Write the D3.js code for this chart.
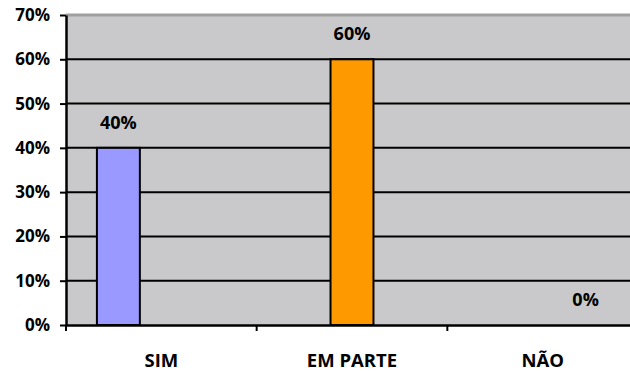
<!DOCTYPE html>
<html lang="pt">
<head>
<meta charset="utf-8">
<title></title>
<script src="https://cdn.jsdelivr.net/npm/d3@7"></script>
<style>
  body { margin: 0; background: #fff; }
  text { font-family: "Open Sans", sans-serif; font-weight: bold; fill: #000; }
</style>
</head>
<body>
<svg id="chart" width="630" height="371"></svg>
<script>
// chart data
var categories = ["SIM", "EM PARTE", "NÃO"];
var values = [0.40, 0.60, 0.00];
var barColors = ["#9999ff", "#ff9900", "#993366"];
var yTicks = [0, 0.1, 0.2, 0.3, 0.4, 0.5, 0.6, 0.7];

var W = 630, H = 371;
var m = { left: 66, right: -8, top: 15, bottom: 46 };

var svg = d3.select("#chart");

var x = d3.scaleBand()
    .domain(categories)
    .range([m.left, W - m.right]);

// each series sits in its own slot inside the category (excel clustered look)
var xs = d3.scaleBand()
    .domain(categories)
    .range([0, x.bandwidth()])
    .paddingOuter(0.72);

var y = d3.scaleLinear()
    .domain([0, 0.7])
    .range([H - m.bottom, m.top]);

// plot background
svg.append("rect")
    .attr("x", m.left)
    .attr("y", y(0.7))
    .attr("width", W - m.right - m.left)
    .attr("height", y(0) - y(0.7))
    .attr("fill", "#c9c9cb");

// gridlines
svg.selectAll("line.grid")
    .data(yTicks.filter(function (d) { return d > 0 && d < 0.7; }))
    .enter().append("line")
    .attr("class", "grid")
    .attr("x1", m.left).attr("x2", W - m.right)
    .attr("y1", function (d) { return y(d); })
    .attr("y2", function (d) { return y(d); })
    .attr("stroke", "#000")
    .attr("stroke-width", 2);

// top border of the plot
svg.append("line")
    .attr("x1", m.left).attr("x2", W - m.right)
    .attr("y1", y(0.7)).attr("y2", y(0.7))
    .attr("stroke", "#a0a0a0")
    .attr("stroke-width", 3);

// bars
svg.selectAll("rect.bar")
    .data(categories)
    .enter().append("rect")
    .attr("class", "bar")
    .attr("x", function (d) { return x(d) + xs(d); })
    .attr("width", xs.bandwidth())
    .attr("y", function (d, i) { return y(values[i]); })
    .attr("height", function (d, i) { return y(0) - y(values[i]); })
    .attr("fill", function (d, i) { return barColors[i]; })
    .attr("stroke", "#000")
    .attr("stroke-width", 2);

// value labels
svg.selectAll("text.val")
    .data(categories)
    .enter().append("text")
    .attr("class", "val")
    .attr("x", function (d) { return x(d) + xs(d) + xs.bandwidth() / 2; })
    .attr("y", function (d, i) { return y(values[i]) - 19; })
    .attr("text-anchor", "middle")
    .style("font-size", "18px")
    .text(function (d, i) { return d3.format(".0%")(values[i]); });

// y axis
var yAxis = svg.append("g")
    .attr("transform", "translate(" + m.left + ",0)")
    .call(d3.axisLeft(y).tickValues(yTicks).tickSize(6).tickSizeOuter(0)
        .tickFormat(d3.format(".0%")));
yAxis.select(".domain").attr("stroke", "#000").attr("stroke-width", 2.5);
yAxis.selectAll(".tick line").attr("stroke", "#000").attr("stroke-width", 2);
yAxis.selectAll(".tick text")
    .attr("x", -16)
    .style("font-size", "17px");

// x axis: labels in category centre, ticks on category boundaries
var xAxis = svg.append("g")
    .attr("transform", "translate(0," + y(0) + ")")
    .call(d3.axisBottom(x).tickSize(0).tickSizeOuter(0));
xAxis.select(".domain").attr("stroke", "#000").attr("stroke-width", 2.5);
xAxis.selectAll(".tick text")
    .attr("y", 29)
    .style("font-size", "18.5px");

xAxis.selectAll("line.bound")
    .data(categories)
    .enter().append("line")
    .attr("class", "bound")
    .attr("x1", function (d) { return x(d); })
    .attr("x2", function (d) { return x(d); })
    .attr("y1", 0).attr("y2", 6)
    .attr("stroke", "#000")
    .attr("stroke-width", 2);
</script>
</body>
</html>
